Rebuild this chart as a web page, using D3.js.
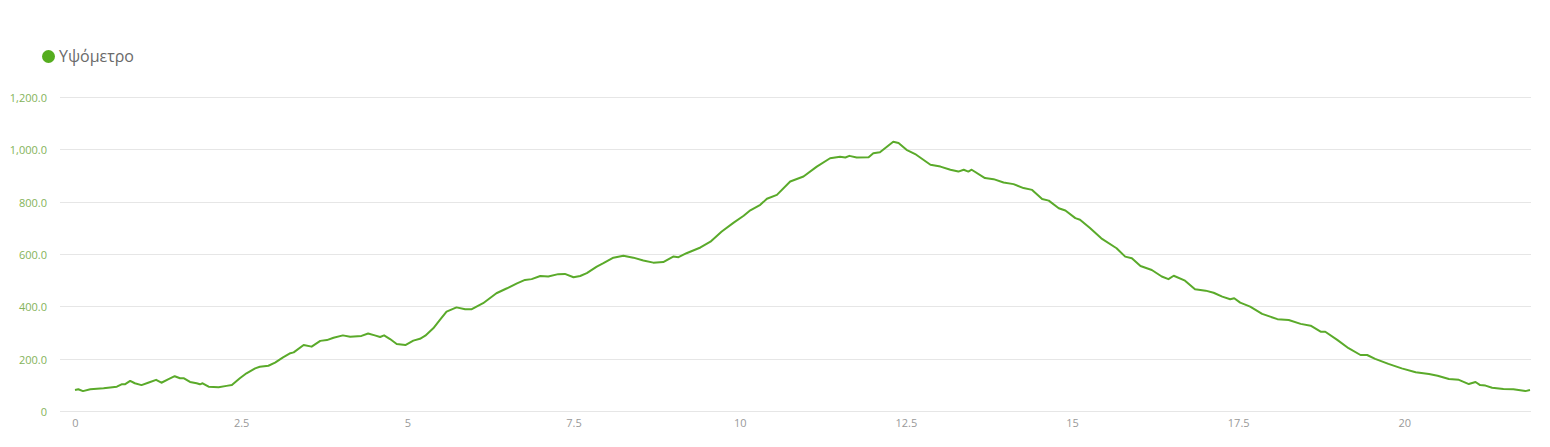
<!DOCTYPE html>
<html>
<head>
<meta charset="utf-8">
<script src="https://cdn.jsdelivr.net/npm/d3@7"></script>
<style>
  html, body { margin: 0; padding: 0; background: #fff; }
  svg { display: block; font-family: "Open Sans", "Noto Sans", sans-serif; }
</style>
</head>
<body>
<svg id="chart" width="1550" height="447"></svg>
<script>
const seriesName = "Υψόμετρο";
const distanceKm = [
  0, 0.05, 0.12, 0.23, 0.43, 0.63, 0.70, 0.75, 0.83, 0.90, 1.00, 1.10, 1.22, 1.30, 1.40, 1.50, 1.58, 1.64,
  1.73, 1.83, 1.88, 1.92, 2.01, 2.16, 2.28, 2.36, 2.48, 2.58, 2.71, 2.78, 2.91, 3.01, 3.13, 3.24, 3.29,
  3.44, 3.56, 3.69, 3.79, 3.89, 4.03, 4.14, 4.31, 4.41, 4.51, 4.59, 4.65, 4.74, 4.84, 4.97, 5.09, 5.19,
  5.27, 5.39, 5.49, 5.59, 5.74, 5.87, 5.97, 6.14, 6.34, 6.50, 6.65, 6.77, 6.87, 7.00, 7.12, 7.27, 7.37,
  7.50, 7.60, 7.70, 7.85, 7.95, 8.10, 8.25, 8.40, 8.55, 8.70, 8.85, 9.00, 9.08, 9.20, 9.41, 9.56, 9.73,
  9.91, 10.06, 10.16, 10.31, 10.41, 10.56, 10.76, 10.96, 11.16, 11.36, 11.51, 11.59, 11.65, 11.76, 11.94,
  12.01, 12.11, 12.31, 12.39, 12.51, 12.64, 12.87, 13.02, 13.17, 13.29, 13.37, 13.44, 13.49, 13.69, 13.82,
  13.97, 14.12, 14.27, 14.40, 14.55, 14.65, 14.80, 14.90, 15.05, 15.12, 15.27, 15.44, 15.67, 15.80, 15.90,
  16.03, 16.20, 16.35, 16.45, 16.53, 16.70, 16.85, 17.01, 17.13, 17.26, 17.38, 17.44, 17.53, 17.68, 17.86,
  18.09, 18.26, 18.44, 18.59, 18.74, 18.81, 18.99, 19.16, 19.34, 19.44, 19.56, 19.76, 19.96, 20.17, 20.37,
  20.50, 20.67, 20.82, 20.97, 21.07, 21.14, 21.22, 21.32, 21.49, 21.64, 21.82, 21.89
];
const elevation = [
  80, 83, 76, 83, 87, 93, 102, 102, 115, 106, 99, 108, 119, 108, 121, 133, 125, 125,
  111, 106, 102, 106, 93, 91, 96, 99, 125, 144, 163, 169, 173, 185, 205, 221, 224,
  252, 246, 268, 271, 280, 289, 284, 287, 296, 289, 283, 289, 275, 256, 252, 269, 276,
  288, 316, 348, 380, 396, 389, 389, 412, 450, 469, 488, 501, 504, 516, 514, 523, 524,
  511, 516, 527, 552, 565, 586, 593, 586, 575, 567, 569, 590, 588, 603, 625, 647, 686,
  720, 746, 767, 788, 811, 826, 877, 896, 934, 966, 972, 969, 975, 969, 970,
  985, 989, 1029, 1024, 998, 982, 941, 934, 922, 915, 922, 915, 922, 890, 886,
  873, 867, 852, 845, 810, 804, 775, 766, 737, 731, 699, 660, 622, 590, 584,
  554, 539, 514, 504, 517, 498, 465, 460, 452, 437, 427, 431, 414, 399, 371,
  351, 348, 333, 326, 303, 303, 272, 240, 214, 214, 199, 180, 163, 148, 141,
  135, 122, 119, 103, 111, 99, 97, 89, 84, 83, 76, 80
];
const xTicks = [0, 2.5, 5, 7.5, 10, 12.5, 15, 17.5, 20];
const yTicks = [0, 200, 400, 600, 800, 1000, 1200];

const data = distanceKm.map((d, i) => ({ x: d, y: elevation[i] }));

const svg = d3.select("#chart");
const gridLeft = 60, gridRight = 1531;
const x = d3.scaleLinear().domain([0, 21.89]).range([75, 1530]);
const y = d3.scaleLinear().domain([0, 1200]).range([411, 97]);

// gridlines
svg.append("g")
  .selectAll("line")
  .data(yTicks)
  .join("line")
  .attr("x1", gridLeft).attr("x2", gridRight)
  .attr("y1", d => Math.round(y(d)) + 0.5).attr("y2", d => Math.round(y(d)) + 0.5)
  .attr("stroke", "#e6e6e6").attr("stroke-width", 1);

// y labels
const yFmt = d => d === 0 ? "0" : d3.format(",.1f")(d);
const yAxis = d3.axisLeft(y).tickValues(yTicks).tickFormat(yFmt).tickSize(0).tickPadding(0);
const gy = svg.append("g").attr("transform", "translate(47,0)").call(yAxis);
gy.select(".domain").remove();
gy.selectAll("text")
  .attr("fill", "#84b35a")
  .style("font-size", "11px")
  .style("font-family", "'Open Sans', sans-serif")
  .attr("dy", "0.4em");

// x labels
const xAxis = d3.axisBottom(x).tickValues(xTicks).tickFormat(d3.format("")).tickSize(0).tickPadding(0);
const gx = svg.append("g").attr("transform", "translate(0,419)").call(xAxis);
gx.select(".domain").remove();
gx.selectAll("text")
  .attr("fill", "#999999")
  .style("font-size", "11px")
  .style("font-family", "'Open Sans', sans-serif");

// line
const line = d3.line().x(d => x(d.x)).y(d => y(d.y)).curve(d3.curveLinear);
svg.append("path")
  .datum(data)
  .attr("d", line)
  .attr("fill", "none")
  .attr("stroke", "#5aaa2a")
  .attr("stroke-width", 2)
  .attr("stroke-linejoin", "round");

// legend
const lg = svg.append("g");
lg.append("circle").attr("cx", 48.5).attr("cy", 56.5).attr("r", 6.5).attr("fill", "#55ad1f");
lg.append("text").attr("x", 59).attr("y", 62)
  .text(seriesName)
  .attr("fill", "#6a6a6a")
  .style("font-size", "16px")
  .style("font-family", "'Open Sans', sans-serif");
</script>
</body>
</html>
